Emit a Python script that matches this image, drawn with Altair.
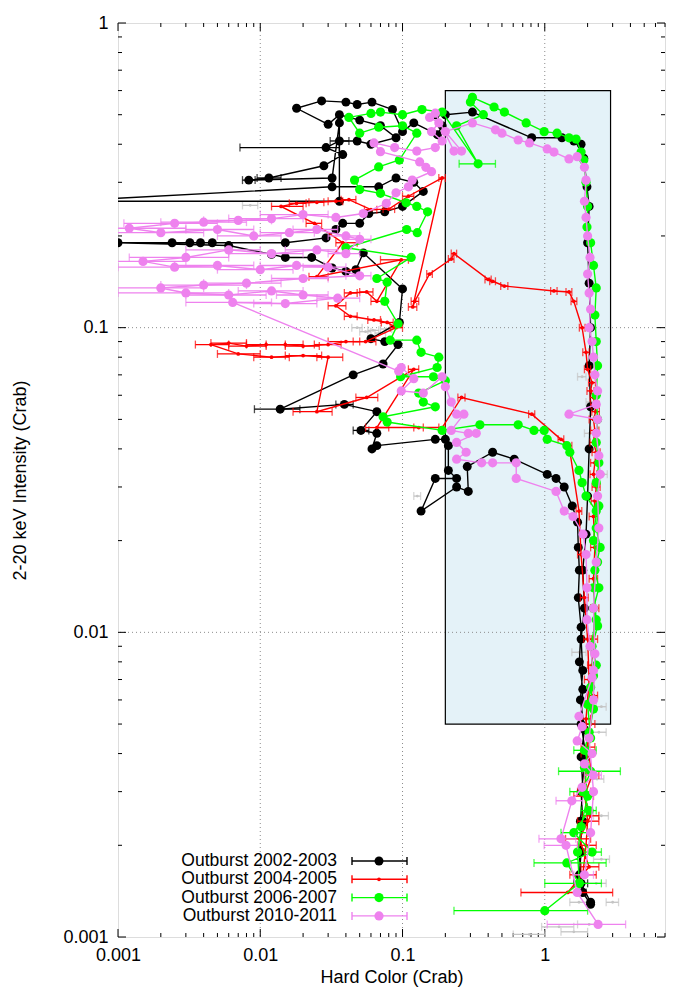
import altair as alt
import pandas as pd

FONT = "Liberation Sans"
W, H = 547, 914

X_DOMAIN = [0.001, 7]
Y_DOMAIN = [0.001, 1]
X_LABELS = [0.001, 0.01, 0.1, 1]
Y_LABELS = [0.001, 0.01, 0.1, 1]
X_GRID = [0.01, 0.1, 1]
Y_GRID = [0.01, 0.1]
DECADES = [0.001, 0.01, 0.1, 1]
MINOR_MULT = [2, 3, 4, 5, 6, 7, 8, 9]

BOX_X = [0.2, 2.9]
BOX_Y = [0.005, 0.6]

NAMES = ["Outburst 2002-2003", "Outburst 2004-2005", "Outburst 2006-2007", "Outburst 2010-2011"]
COLORS = ["#000000", "#ff0000", "#00ff00", "#ee82ee"]
GREY = "#c4c4c4"

# (hard color, intensity[, err_lo, err_hi])
GREY_PTS = [
    (0.0085, 0.252, 0.0075, 0.0096), (0.048, 0.100, 0.044, 0.052), (0.055, 0.097, 0.05, 0.06),
    (0.062, 0.098, 0.057, 0.068), (0.07, 0.096, 0.064, 0.076), (0.077, 0.099, 0.07, 0.084),
    (0.127, 0.028, 0.12, 0.134), (1.83, 0.069, 1.7, 1.95), (2.1, 0.057, 1.95, 2.25),
    (2.05, 0.045, 1.9, 2.2), (2.6, 0.033, 2.45, 2.75), (1.74, 0.0086, 1.55, 1.95),
    (2.5, 0.0057, 2.3, 2.7), (2.4, 0.0047, 2.15, 2.7), (2.33, 0.0033, 2.1, 2.6),
    (2.5, 0.0025, 2.2, 2.8), (2.5, 0.0018, 2.2, 2.85), (2.3, 0.0015, 2.0, 2.7),
    (1.74, 0.0013, 1.5, 2.0), (3.0, 0.0013, 2.7, 3.3), (2.05, 0.0011, 1.7, 2.4),
    (1.26, 0.00108, 0.95, 1.6), (0.78, 0.00102, 0.6, 1.0), (1.6, 0.00104, 1.3, 2.0),
]

BLACK_PTS = [
    (2.1, 0.00128), (1.85, 0.0014, 1.75, 1.95), (1.75, 0.0016), (1.8, 0.0019), (1.78, 0.0024),
    (1.85, 0.0031), (1.8, 0.0039), (1.9, 0.0048), (1.78, 0.006), (1.85, 0.0075), (1.8, 0.0095),
    (1.9, 0.012), (1.85, 0.016), (1.95, 0.021), (2.0, 0.028), (2.05, 0.04), (2.1, 0.055),
    (2.05, 0.075), (2.1, 0.1), (2.05, 0.14), (2.0, 0.19), (2.05, 0.25), (1.98, 0.29),
    (1.88, 0.36), (1.8, 0.40), (1.6, 0.41), (1.32, 0.42), (0.81, 0.42), (0.31, 0.51),
    (0.2, 0.50), (0.17, 0.50), (0.19, 0.46), (0.176, 0.43), (0.12, 0.47), (0.1, 0.44),
    (0.085, 0.52), (0.061, 0.55), (0.048, 0.54), (0.04, 0.55), (0.027, 0.555), (0.018, 0.525),
    (0.03, 0.465), (0.036, 0.50), (0.05, 0.48), (0.07, 0.46), (0.09, 0.42), (0.06, 0.40),
    (0.048, 0.41), (0.036, 0.41, 0.031, 0.042), (0.029, 0.39, 0.0072, 0.036), (0.038, 0.37),
    (0.028, 0.34), (0.0115, 0.31, 0.0095, 0.014), (0.0083, 0.305, 0.0075, 0.0092), (0.032, 0.31),
    (0.036, 0.47), (0.036, 0.26), (0.0004, 0.26), (0.032, 0.29), (0.068, 0.29), (0.09, 0.31),
    (0.12, 0.30), (0.14, 0.28), (0.1, 0.25), (0.075, 0.24), (0.058, 0.237), (0.05, 0.22),
    (0.038, 0.22), (0.034, 0.21), (0.029, 0.197), (0.015, 0.19), (0.0046, 0.19), (0.0038, 0.19),
    (0.0032, 0.19), (0.0024, 0.19), (0.001, 0.19), (0.006, 0.186), (0.012, 0.174), (0.015, 0.17),
    (0.023, 0.17), (0.032, 0.157), (0.04, 0.153), (0.047, 0.155), (0.053, 0.176), (0.1, 0.134),
    (0.095, 0.104), (0.06, 0.092), (0.075, 0.09), (0.093, 0.088), (0.073, 0.076), (0.045, 0.07),
    (0.0138, 0.054, 0.0091, 0.019), (0.039, 0.056, 0.034, 0.045), (0.066, 0.053),
    (0.051, 0.046, 0.045, 0.058), (0.066, 0.045), (0.061, 0.040), (0.066, 0.041), (0.17, 0.043),
    (0.2, 0.043), (0.21, 0.041), (0.21, 0.034), (0.24, 0.032), (0.17, 0.032), (0.135, 0.025),
    (0.24, 0.030), (0.29, 0.029), (0.285, 0.035), (0.43, 0.039), (0.61, 0.037), (1.04, 0.033),
    (1.2, 0.032), (1.37, 0.030), (1.56, 0.026), (1.7, 0.023), (1.72, 0.019), (1.75, 0.016),
    (1.72, 0.013), (1.8, 0.0104), (1.75, 0.008), (1.85, 0.0065), (1.8, 0.005), (1.95, 0.0039),
    (1.8, 0.003), (1.85, 0.0024), (1.75, 0.0019), (1.8, 0.0015, 1.6, 2.0), (2.1, 0.0013),
]

RED_PTS = [
    (1.45, 0.0014, 0.68, 3.0), (2.05, 0.0017, 1.8, 2.4), (1.75, 0.0021, 1.4, 2.1),
    (2.1, 0.0025, 1.85, 2.4), (1.9, 0.0029, 1.6, 2.2), (2.15, 0.0034, 1.9, 2.4),
    (2.0, 0.0042, 1.8, 2.25), (2.1, 0.005, 1.95, 2.25), (2.2, 0.0062, 2.05, 2.35),
    (2.15, 0.0078, 2.0, 2.3), (2.2, 0.0095, 2.05, 2.35), (2.25, 0.012, 2.1, 2.4),
    (2.2, 0.015, 2.05, 2.35), (2.25, 0.019, 2.1, 2.4), (2.2, 0.024, 2.05, 2.35),
    (2.25, 0.027, 2.12, 2.38), (2.3, 0.03, 2.15, 2.45), (2.2, 0.033, 2.08, 2.32),
    (2.25, 0.036, 2.1, 2.4), (2.3, 0.039, 2.15, 2.45), (2.2, 0.042, 2.08, 2.32),
    (2.25, 0.046, 2.1, 2.4), (2.2, 0.05, 2.05, 2.35), (2.28, 0.053, 2.14, 2.42),
    (2.25, 0.056, 2.1, 2.4), (2.2, 0.059, 2.08, 2.32), (2.1, 0.062, 1.98, 2.22),
    (2.15, 0.066, 2.03, 2.27), (2.0, 0.073, 1.9, 2.1), (1.95, 0.083, 1.85, 2.05),
    (1.83, 0.1, 1.75, 1.92), (1.6, 0.122, 1.53, 1.68), (1.48, 0.131, 1.41, 1.55),
    (1.16, 0.132, 1.1, 1.22), (0.52, 0.137, 0.49, 0.55), (0.43, 0.142, 0.41, 0.45),
    (0.4, 0.144, 0.38, 0.42), (0.23, 0.175, 0.22, 0.24), (0.22, 0.168, 0.21, 0.23),
    (0.155, 0.15, 0.148, 0.162), (0.122, 0.122, 0.115, 0.13), (0.118, 0.117, 0.11, 0.126),
    (0.19, 0.31, 0.18, 0.2), (0.11, 0.27, 0.1, 0.12), (0.08, 0.245, 0.073, 0.088),
    (0.06, 0.244, 0.054, 0.066), (0.042, 0.263, 0.037, 0.047), (0.034, 0.26, 0.03, 0.038),
    (0.025, 0.258, 0.022, 0.028), (0.018, 0.256, 0.016, 0.021), (0.014, 0.25, 0.012, 0.02),
    (0.024, 0.22, 0.021, 0.027), (0.038, 0.19, 0.034, 0.048), (0.025, 0.147, 0.022, 0.03),
    (0.098, 0.167, 0.07, 0.11), (0.066, 0.122, 0.06, 0.072), (0.056, 0.131, 0.05, 0.062),
    (0.043, 0.13, 0.039, 0.048), (0.034, 0.118, 0.03, 0.04), (0.043, 0.109, 0.039, 0.048),
    (0.063, 0.106, 0.057, 0.07), (0.078, 0.104, 0.071, 0.086), (0.09, 0.1, 0.082, 0.1),
    (0.055, 0.09, 0.045, 0.065), (0.04, 0.09, 0.03, 0.05), (0.03, 0.088, 0.024, 0.037),
    (0.02, 0.087, 0.015, 0.026), (0.015, 0.088, 0.011, 0.02), (0.011, 0.088, 0.008, 0.015),
    (0.008, 0.087, 0.006, 0.011), (0.006, 0.089, 0.0045, 0.008), (0.0045, 0.088, 0.0035, 0.006),
    (0.007, 0.082, 0.005, 0.01), (0.012, 0.08, 0.009, 0.016), (0.02, 0.081, 0.015, 0.027),
    (0.03, 0.08, 0.025, 0.038), (0.025, 0.053, 0.017, 0.032), (0.056, 0.059, 0.047, 0.067),
    (0.12, 0.073, 0.11, 0.13), (0.066, 0.047, 0.055, 0.08), (0.13, 0.047, 0.12, 0.14),
    (0.19, 0.047, 0.18, 0.2), (0.26, 0.059, 0.245, 0.275), (0.81, 0.052, 0.77, 0.85),
    (1.3, 0.043, 1.24, 1.36), (1.48, 0.041, 1.41, 1.55), (1.74, 0.025, 1.66, 1.82),
    (1.8, 0.018, 1.7, 1.9), (1.9, 0.013, 1.78, 2.02), (2.0, 0.0095, 1.88, 2.12),
    (2.05, 0.007, 1.9, 2.2), (1.95, 0.0052, 1.8, 2.1), (2.0, 0.004, 1.8, 2.2),
    (1.9, 0.003, 1.7, 2.1), (2.0, 0.0024, 1.7, 2.4), (1.95, 0.002, 1.7, 2.3),
    (1.85, 0.0016, 1.5, 2.3),
]

GREEN_PTS = [
    (1.0, 0.00122, 0.23, 2.0), (1.74, 0.0015, 1.0, 2.5), (1.43, 0.00175, 0.84, 2.7),
    (2.15, 0.0019, 1.9, 2.5), (1.6, 0.0022, 1.3, 2.0), (2.05, 0.0026, 1.8, 2.3),
    (1.85, 0.003, 1.5, 2.2), (2.1, 0.0035, 1.25, 3.4), (1.9, 0.0041, 1.6, 2.3),
    (2.05, 0.0047), (2.2, 0.0056), (2.1, 0.0066), (2.3, 0.0078), (2.15, 0.009), (2.35, 0.0105),
    (2.2, 0.012), (2.4, 0.014), (2.25, 0.016), (2.45, 0.019), (2.3, 0.022), (2.4, 0.026),
    (2.3, 0.031), (2.4, 0.036), (2.3, 0.042), (2.35, 0.05), (2.3, 0.06), (2.35, 0.075),
    (2.3, 0.09), (2.25, 0.11), (2.3, 0.135), (2.2, 0.16), (2.1, 0.19), (1.98, 0.214),
    (2.0, 0.25), (1.95, 0.3), (1.88, 0.355), (1.8, 0.377), (1.66, 0.416), (1.48, 0.42),
    (1.22, 0.435), (0.99, 0.44), (0.74, 0.47), (0.52, 0.51), (0.44, 0.53), (0.31, 0.57),
    (0.3, 0.55), (0.37, 0.50), (0.24, 0.46), (0.34, 0.345, 0.25, 0.45), (0.19, 0.51),
    (0.137, 0.52), (0.1, 0.50), (0.07, 0.51), (0.06, 0.505), (0.042, 0.49), (0.05, 0.435),
    (0.068, 0.455), (0.1, 0.46), (0.126, 0.435), (0.095, 0.355), (0.068, 0.337), (0.046, 0.305),
    (0.05, 0.284), (0.07, 0.276), (0.106, 0.257), (0.126, 0.25), (0.15, 0.24), (0.127, 0.205),
    (0.107, 0.21), (0.04, 0.183), (0.115, 0.17), (0.066, 0.145), (0.078, 0.141), (0.075, 0.122),
    (0.093, 0.103), (0.082, 0.091), (0.126, 0.091), (0.135, 0.083), (0.18, 0.08), (0.175, 0.074),
    (0.097, 0.069), (0.165, 0.069), (0.2, 0.067), (0.13, 0.061), (0.14, 0.057), (0.17, 0.055),
    (0.073, 0.051), (0.078, 0.049), (0.19, 0.046), (0.35, 0.048), (0.65, 0.048), (0.84, 0.046),
    (0.99, 0.046), (1.04, 0.043), (1.43, 0.041), (1.5, 0.039), (1.74, 0.034), (1.83, 0.031),
    (1.95, 0.028), (2.3, 0.025), (2.2, 0.02), (2.35, 0.017), (2.2, 0.014), (2.3, 0.011),
    (2.1, 0.009), (2.2, 0.0072), (2.0, 0.0058), (2.1, 0.0045), (1.9, 0.0036), (2.0, 0.0029),
    (1.8, 0.0023), (1.7, 0.0019), (1.75, 0.0015),
]

VIOLET_PTS = [
    (1.9, 0.0016, 1.6, 2.2), (2.1, 0.0022), (2.2, 0.003), (2.05, 0.0045), (2.2, 0.006),
    (2.25, 0.0085), (2.2, 0.012), (2.3, 0.017), (2.4, 0.022), (2.35, 0.028), (2.45, 0.033),
    (2.4, 0.038), (2.3, 0.045), (2.35, 0.05), (1.48, 0.052), (2.3, 0.056), (2.35, 0.062),
    (2.25, 0.07), (2.2, 0.08), (2.15, 0.09), (2.05, 0.1), (2.1, 0.115), (2.05, 0.13),
    (2.0, 0.15), (2.08, 0.17), (2.0, 0.2), (1.95, 0.23), (1.9, 0.26), (1.95, 0.305),
    (1.9, 0.336), (1.69, 0.364), (1.48, 0.358), (1.16, 0.377), (1.04, 0.386), (0.78, 0.404),
    (0.65, 0.413), (0.5, 0.435), (0.45, 0.446), (0.31, 0.47), (0.2, 0.44), (0.26, 0.38),
    (0.23, 0.38), (0.17, 0.506), (0.155, 0.49), (0.18, 0.47), (0.16, 0.44), (0.19, 0.41),
    (0.17, 0.39), (0.126, 0.38), (0.088, 0.39), (0.063, 0.404), (0.07, 0.378), (0.132, 0.35),
    (0.146, 0.336), (0.16, 0.325), (0.117, 0.305), (0.11, 0.29), (0.09, 0.277), (0.077, 0.256),
    (0.053, 0.237), (0.034, 0.23),
    (0.02, 0.235, 0.01, 0.03), (0.012, 0.228, 0.006, 0.02), (0.007, 0.225, 0.004, 0.012),
    (0.004, 0.222, 0.002, 0.008), (0.0025, 0.22, 0.0011, 0.005), (0.0012, 0.212, 0.0005, 0.003),
    (0.002, 0.205, 0.0008, 0.004), (0.005, 0.21, 0.003, 0.009), (0.009, 0.2, 0.005, 0.014),
    (0.016, 0.205, 0.01, 0.024), (0.025, 0.21, 0.017, 0.035), (0.04, 0.2, 0.03, 0.05),
    (0.05, 0.195, 0.04, 0.06), (0.04, 0.175, 0.03, 0.05), (0.025, 0.18, 0.015, 0.035),
    (0.012, 0.175, 0.006, 0.02), (0.006, 0.18, 0.003, 0.01), (0.003, 0.17, 0.0012, 0.006),
    (0.0015, 0.165, 0.0006, 0.003), (0.0025, 0.158, 0.001, 0.005), (0.005, 0.16, 0.0025, 0.009),
    (0.01, 0.155, 0.005, 0.017), (0.018, 0.16, 0.01, 0.028), (0.03, 0.158, 0.02, 0.04),
    (0.05, 0.148, 0.04, 0.06), (0.02, 0.145, 0.012, 0.03), (0.008, 0.14, 0.004, 0.014),
    (0.004, 0.138, 0.002, 0.008), (0.002, 0.135, 0.0008, 0.004), (0.003, 0.13, 0.001, 0.006),
    (0.006, 0.128, 0.003, 0.011), (0.012, 0.132, 0.007, 0.02), (0.02, 0.128, 0.013, 0.03),
    (0.035, 0.125, 0.025, 0.05), (0.015, 0.12, 0.009, 0.025), (0.0064, 0.121, 0.003, 0.012),
    (0.094, 0.072), (0.098, 0.074), (0.12, 0.068), (0.098, 0.062), (0.14, 0.061), (0.19, 0.069),
    (0.2, 0.064), (0.22, 0.057), (0.24, 0.052), (0.27, 0.052), (0.22, 0.046), (0.29, 0.045),
    (0.33, 0.045), (0.24, 0.042), (0.28, 0.039), (0.24, 0.037), (0.36, 0.036), (0.43, 0.036),
    (0.63, 0.036), (0.63, 0.032), (1.2, 0.029), (1.37, 0.025), (1.58, 0.024), (1.86, 0.021),
    (1.95, 0.018), (1.98, 0.014), (1.98, 0.011), (2.08, 0.009), (2.2, 0.0075), (2.15, 0.0071),
    (1.74, 0.0053), (1.83, 0.0049), (1.69, 0.0044), (2.15, 0.004), (1.9, 0.0037),
    (2.2, 0.0034, 1.9, 2.5), (1.83, 0.0031), (1.55, 0.0028, 1.2, 1.85), (1.3, 0.0021, 0.91, 1.65),
    (1.41, 0.002, 0.99, 1.7), (1.69, 0.0014), (2.37, 0.0011, 1.04, 3.7),
]


def to_frame(pts):
    rows = []
    for i, p in enumerate(pts):
        rows.append({"i": i, "x": p[0], "y": p[1],
                     "lo": p[2] if len(p) > 2 else None,
                     "hi": p[3] if len(p) > 3 else None})
    return pd.DataFrame(rows)


xs = alt.Scale(type="log", domain=X_DOMAIN, nice=False)
ys = alt.Scale(type="log", domain=Y_DOMAIN, nice=False)

x_axis = alt.Axis(values=X_LABELS, format="~g", title="Hard Color (Crab)", ticks=False, tickSize=0,
                  domain=False, grid=False, labelFont=FONT, labelFontSize=18, labelColor="black",
                  labelPadding=9, labelFlush=False, labelOverlap=False, titleFont=FONT,
                  titleFontSize=18, titleFontWeight="normal", titleColor="black", titlePadding=4)
y_axis = alt.Axis(values=Y_LABELS, format="~g", title="2-20 keV Intensity (Crab)", ticks=False,
                  tickSize=0, domain=False, grid=False, labelFont=FONT, labelFontSize=18,
                  labelColor="black", labelPadding=10, labelFlush=False, labelOverlap=False,
                  titleFont=FONT, titleFontSize=18, titleFontWeight="normal", titleColor="black",
                  titlePadding=33)

layers = []

box_df = pd.DataFrame({"x0": [BOX_X[0]], "x1": [BOX_X[1]], "y0": [BOX_Y[0]], "y1": [BOX_Y[1]]})
layers.append(alt.Chart(box_df).mark_rect(fill="#e4f2f8", stroke="black", strokeWidth=1.2).encode(
    x=alt.X("x0:Q", scale=xs, axis=x_axis), x2="x1:Q",
    y=alt.Y("y0:Q", scale=ys, axis=y_axis), y2="y1:Q"))

# dotted grid
layers.append(alt.Chart(pd.DataFrame({"v": X_GRID})).mark_rule(
    color="#8c8c8c", strokeDash=[1, 3], strokeWidth=1).encode(
    x=alt.X("v:Q", scale=xs, axis=None)))
layers.append(alt.Chart(pd.DataFrame({"v": Y_GRID})).mark_rule(
    color="#8c8c8c", strokeDash=[1, 3], strokeWidth=1).encode(
    y=alt.Y("v:Q", scale=ys, axis=None)))

# inward ticks on all four sides
x_major = [v for v in DECADES if X_DOMAIN[0] <= v <= X_DOMAIN[1]]
x_minor = [d * m for d in DECADES for m in MINOR_MULT if d * m <= X_DOMAIN[1]]
y_major = DECADES
y_minor = [d * m for d in DECADES[:-1] for m in MINOR_MULT]
for vals, ln in [(x_major, 8), (x_minor, 4)]:
    df = pd.DataFrame({"v": vals})
    xe = alt.X("v:Q", scale=xs, axis=None)
    layers.append(alt.Chart(df).mark_rule(color="black", strokeWidth=1).encode(
        x=xe, y=alt.value(H), y2=alt.value(H - ln)))
    layers.append(alt.Chart(df).mark_rule(color="black", strokeWidth=1).encode(
        x=xe, y=alt.value(0), y2=alt.value(ln)))
for vals, ln in [(y_major, 8), (y_minor, 4)]:
    df = pd.DataFrame({"v": vals})
    ye = alt.Y("v:Q", scale=ys, axis=None)
    layers.append(alt.Chart(df).mark_rule(color="black", strokeWidth=1).encode(
        y=ye, x=alt.value(0), x2=alt.value(ln)))
    layers.append(alt.Chart(df).mark_rule(color="black", strokeWidth=1).encode(
        y=ye, x=alt.value(W), x2=alt.value(W - ln)))


def errorbars(df, color):
    e = df.dropna(subset=["lo"])
    out = [alt.Chart(e).mark_rule(color=color, strokeWidth=1.3, clip=True).encode(
        x=alt.X("lo:Q", scale=xs, axis=None), x2="hi:Q", y=alt.Y("y:Q", scale=ys, axis=None))]
    for f in ["lo", "hi"]:
        out.append(alt.Chart(e).mark_tick(color=color, orient="vertical", size=8, thickness=1.3,
                                          clip=True).encode(
            x=alt.X(f + ":Q", scale=xs, axis=None), y=alt.Y("y:Q", scale=ys, axis=None)))
    return out


# grey extra observations
gdf = to_frame(GREY_PTS)
layers += errorbars(gdf, GREY)
layers.append(alt.Chart(gdf).mark_circle(color=GREY, size=8, opacity=1, clip=True).encode(
    x=alt.X("x:Q", scale=xs, axis=None), y=alt.Y("y:Q", scale=ys, axis=None)))

SERIES = [BLACK_PTS, RED_PTS, GREEN_PTS, VIOLET_PTS]
SIZES = [80, 14, 85, 85]
for pts, color, sz in zip(SERIES, COLORS, SIZES):
    df = to_frame(pts)
    layers.append(alt.Chart(df).mark_line(color=color, strokeWidth=1.4, clip=True).encode(
        x=alt.X("x:Q", scale=xs, axis=None), y=alt.Y("y:Q", scale=ys, axis=None), order="i:Q"))
    layers += errorbars(df, color)
    layers.append(alt.Chart(df).mark_circle(color=color, size=sz, opacity=1, clip=True).encode(
        x=alt.X("x:Q", scale=xs, axis=None), y=alt.Y("y:Q", scale=ys, axis=None)))

# key (bottom left, inside plot)
one = pd.DataFrame({"a": [0]})
for k, (name, color, sz) in enumerate(zip(NAMES, COLORS, SIZES)):
    yk = 838 + 18.3 * k
    layers.append(alt.Chart(one).mark_text(text=name, align="right", baseline="middle",
                                           font=FONT, fontSize=17.5, color="black").encode(
        x=alt.value(219), y=alt.value(yk)))
    layers.append(alt.Chart(one).mark_rule(color=color, strokeWidth=1.4).encode(
        x=alt.value(234), x2=alt.value(289), y=alt.value(yk)))
    for xc in [234, 289]:
        layers.append(alt.Chart(one).mark_rule(color=color, strokeWidth=1.4).encode(
            x=alt.value(xc), y=alt.value(yk - 4), y2=alt.value(yk + 4)))
    layers.append(alt.Chart(one).mark_circle(color=color, size=sz, opacity=1).encode(
        x=alt.value(261), y=alt.value(yk)))

chart = alt.layer(*layers).resolve_axis(x="independent", y="independent").properties(
    width=W, height=H,
    autosize=alt.AutoSizeParams(type="none"),
    padding={"left": 110, "top": 15, "right": 25, "bottom": 54},
).configure_view(stroke="black", strokeWidth=1.2).configure(background="white")

chart.save("out.html", embed_options={"renderer": "svg", "actions": False})
